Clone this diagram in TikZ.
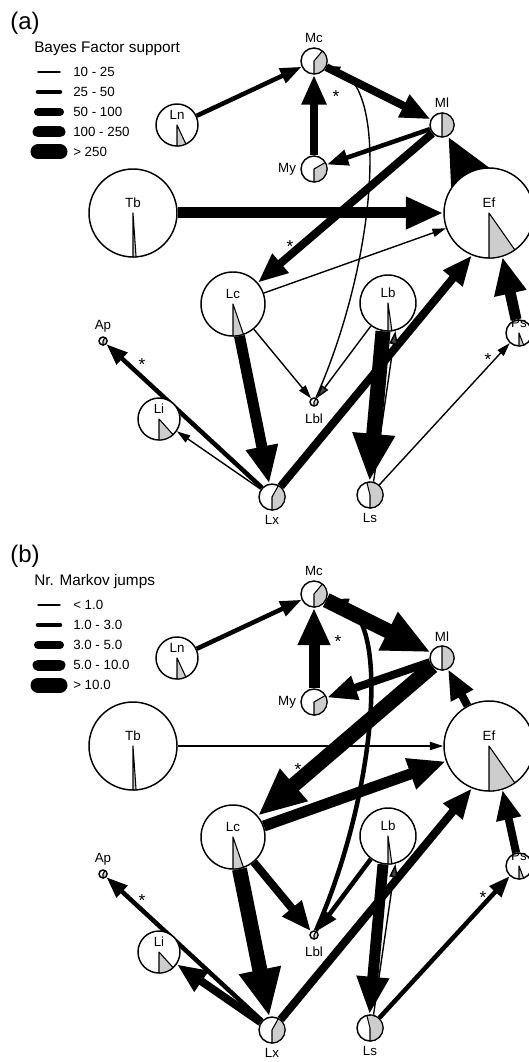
\documentclass[tikz,border=0pt]{standalone}
\usepackage{fontspec}
\setmainfont{Liberation Sans}
\usetikzlibrary{positioning,backgrounds,arrows.meta}
\definecolor{slicegrey}{RGB}{205,205,205}
\definecolor{tipgrey}{RGB}{70,70,70}
\tikzset{
    site/.style={circle, draw=black, line width=1.1pt, fill=white, inner sep=0pt},
    slice/.style={fill=slicegrey, draw=black, line width=0.8pt, line join=round},
    lbl/.style={inner sep=0pt, font=\fontsize{10}{11}\selectfont},
    keytext/.style={inner sep=0pt, anchor=west, font=\fontsize{10}{11}\selectfont},
    title/.style={inner sep=0pt, anchor=west, font=\fontsize{11.5}{13}\selectfont},
    panel/.style={inner sep=0pt, anchor=west, font=\fontsize{18}{20}\selectfont},
    ast/.style={inner sep=0pt, font=\fontsize{13}{14}\selectfont},
    link/.style={-{Triangle[length=7.5pt 2.5, width=3.75pt 2.3]}},
    greytip/.style={-{Triangle[length=7.5pt 2.5, width=3.75pt 2.3, fill=tipgrey]}},
    w1/.style={line width=1.05pt},
    w2/.style={line width=3.4pt},
    w3/.style={line width=6pt},
    w4/.style={line width=8.25pt},
    w5/.style={line width=11.25pt}
}
% site with the label outside: name, x, y, radius, end of grey slice, label place, text
\newcommand{\site}[7]{%
    \node[site, minimum size=#4*1.5pt] (#1) at (#2,-#3) {};
    \filldraw[slice] (#1.center) -- ++(-90:#4) arc[start angle=-90, end angle=#5, radius=#4] -- cycle;
    \node[lbl, #6 of #1] (#1-lbl) {#7};
}
% site with the label inside
\newcommand{\bigsite}[6]{%
    \node[site, minimum size=#4*1.5pt] (#1) at (#2,-#3) {};
    \filldraw[slice] (#1.center) -- ++(-90:#4) arc[start angle=-90, end angle=#5, radius=#4] -- cycle;
    \node[lbl, above=4pt of #1.center] (#1-lbl) {#6};
}
% all locations of one panel
\newcommand{\sites}[1]{%
    \site{#1Mc}{314}{61}{13}{50}{above=3.5pt}{Mc}
    \site{#1Ml}{442}{125}{12}{90}{above=3pt}{Ml}
    \site{#1My}{314}{169}{13}{30}{left=3pt}{My}
    \bigsite{#1Ef}{489}{213}{45}{-55}{Ef}
    \bigsite{#1Tb}{133}{213}{44}{-86}{Tb}
    \bigsite{#1Ln}{177}{125}{21}{-65}{Ln}
    \bigsite{#1Lc}{233}{304}{32}{-71}{Lc}
    \bigsite{#1Lb}{388}{303}{28}{-82}{Lb}
    \bigsite{#1Li}{159}{419}{21}{-48}{Li}
    \bigsite{#1Ps}{519}{333}{13}{-69}{Ps}
    \site{#1Ap}{103}{341}{4}{60}{above=3pt}{Ap}
    \site{#1Lbl}{314}{402}{4}{60}{below=5pt}{Lbl}
    \site{#1Lx}{272}{497}{13}{61}{below=3pt}{Lx}
    \site{#1Ls}{370}{495}{13}{104}{below=3pt}{Ls}
}

\begin{document}
\begin{tikzpicture}[x=0.75pt, y=0.75pt]
    \useasboundingbox (0,0) rectangle (528,-1062);

    % (a) Bayes factors
    \node[panel] (aPanel) at (10,-23) {(a)};
    \node[title] (aTitle) at (34,-49) {Bayes Factor support};
    \foreach \w/\t [count=\i] in {w1/10 - 25, w2/25 - 50, w3/50 - 100, w4/100 - 250, w5/> 250} {
        \draw[\w, line cap=round] (38,-52-20*\i) -- (60,-52-20*\i);
        \node[keytext] (aKey\i) at (73,-52-20*\i) {\t};
    }
    \sites{a}
    \begin{scope}[on background layer]
        \draw[link, w2] (aLn) -- (aMc);
        \draw[link, w3] (aMc) -- (aMl);
        \draw[link, w3] (aMy) -- (aMc);
        \draw[link, w2] (aMl) -- (aMy);
        \draw[link, w5] (aEf) -- (aMl);
        \draw[link, w3] (aMl) -- (aLc);
        \draw[link, w4] (aTb) -- (aEf);
        \draw[link, w1] (aLc) -- (aEf);
        \draw[link, w1] (aLbl) .. controls (375,-265) and (390,-90) .. (aMc);
        \draw[link, w1] (aLc) -- (aLbl);
        \draw[greytip, w1] (aLb) -- (aLbl);
        \draw[link, w4] (aLc) -- (aLx);
        \draw[link, w2] (aLx) -- (aAp);
        \draw[link, w1] (aLx) -- (aLi);
        \draw[link, w3] (aLx) -- (aEf.-112);
        \draw[link, w5] (aLb.260) -- (aLs.92);
        \draw[greytip, w1] (aLs.75) -- (aLb.-75);
        \draw[link, w1] (aLs) -- (aPs);
        \draw[link, w4] (aPs) -- (aEf.-73);
    \end{scope}
    \node[ast] (aStar1) at (336,-97) {*};
    \node[ast] (aStar2) at (290,-247) {*};
    \node[ast] (aStar3) at (142,-365) {*};
    \node[ast] (aStar4) at (488,-360) {*};

    % (b) Markov jumps
    \begin{scope}[yshift=-399.75pt]
        \node[panel] (bPanel) at (10,-23) {(b)};
        \node[title] (bTitle) at (34,-49) {Nr. Markov jumps};
        \foreach \w/\t [count=\i] in {w1/< 1.0, w2/1.0 - 3.0, w3/3.0 - 5.0, w4/5.0 - 10.0, w5/> 10.0} {
            \draw[\w, line cap=round] (38,-52-20*\i) -- (60,-52-20*\i);
            \node[keytext] (bKey\i) at (73,-52-20*\i) {\t};
        }
        \sites{b}
        \begin{scope}[on background layer]
            \draw[link, w2] (bLn) -- (bMc);
            \draw[link, w5] (bMc) -- (bMl);
            \draw[link, w4] (bMy) -- (bMc);
            \draw[link, w3] (bMl) -- (bMy);
            \draw[link, w3] (bEf) -- (bMl);
            \draw[link, w5] (bMl) -- (bLc);
            \draw[link, w1] (bTb) -- (bEf);
            \draw[link, w4] (bLc) -- (bEf);
            \draw[link, w2] (bLbl) .. controls (375,-265) and (390,-90) .. (bMc);
            \draw[link, w3] (bLc) -- (bLbl);
            \draw[link, w2] (bLb) -- (bLbl);
            \draw[link, w5] (bLc) -- (bLx);
            \draw[link, w2] (bLx) -- (bAp);
            \draw[link, w3] (bLx) -- (bLi);
            \draw[link, w3] (bLx) -- (bEf.-112);
            \draw[link, w4] (bLb.260) -- (bLs.92);
            \draw[greytip, w1] (bLs.75) -- (bLb.-75);
            \draw[link, w2] (bLs) -- (bPs);
            \draw[link, w3] (bPs) -- (bEf.-73);
        \end{scope}
        \node[ast] (bStar1) at (338,-109) {*};
        \node[ast] (bStar2) at (298,-237) {*};
        \node[ast] (bStar3) at (142,-368) {*};
        \node[ast] (bStar4) at (483,-365) {*};
    \end{scope}
\end{tikzpicture}
\end{document}
